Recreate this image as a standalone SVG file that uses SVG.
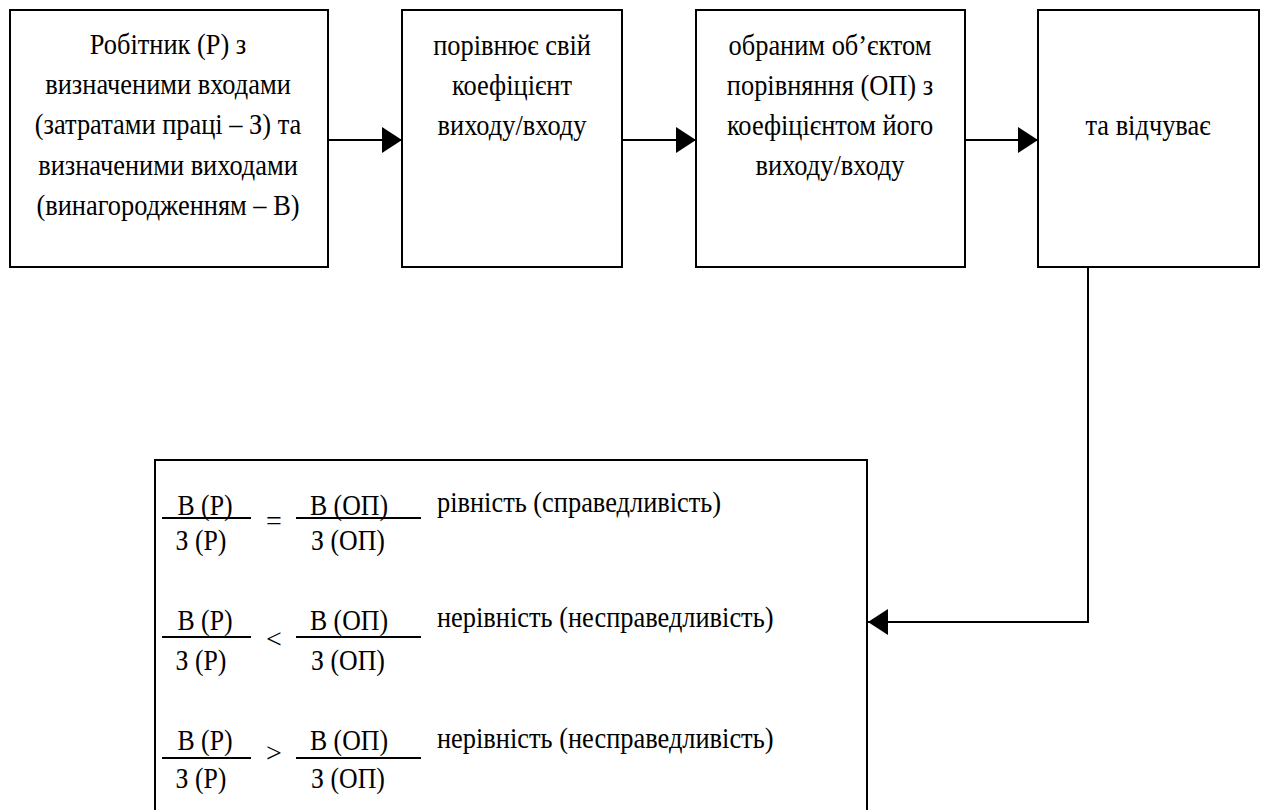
<svg xmlns="http://www.w3.org/2000/svg" width="1264" height="810" viewBox="0 0 1264 810">
<style>
.box{fill:#fff;stroke:#000;stroke-width:2}
.t{font-family:"Liberation Serif","DejaVu Serif","Times New Roman",serif;font-size:30px;fill:#000}
.c{text-anchor:middle}
.ln{stroke:#000;stroke-width:2;fill:none}
.fl{stroke:#000;stroke-width:2}
.op{font-family:"Liberation Serif","DejaVu Serif","Times New Roman",serif;font-size:28px;fill:#000;text-anchor:middle}
</style>
<defs>
<marker id="ah" viewBox="0 0 20 26" refX="20" refY="13" markerWidth="20" markerHeight="26" markerUnits="userSpaceOnUse" orient="auto">
<path d="M0,0 L20,13 L0,26 Z" fill="#000"/>
</marker>
</defs>
<rect width="1264" height="810" fill="#fff"/>
<g id="connectors">
<line class="ln" x1="328" y1="140" x2="402" y2="140" marker-end="url(#ah)"/>
<line class="ln" x1="622" y1="140" x2="696" y2="140" marker-end="url(#ah)"/>
<line class="ln" x1="965" y1="140" x2="1038" y2="140" marker-end="url(#ah)"/>
<polyline class="ln" points="1088,267 1088,622 868,622" marker-end="url(#ah)"/>
</g>
<g id="node1">
<rect class="box" x="10" y="10" width="318" height="257"/>
<g transform="translate(168,0) scale(0.88,1)">
<text class="t c" x="0" y="54">Робітник (Р) з</text>
<text class="t c" x="0" y="94">визначеними входами</text>
<text class="t c" x="0" y="134">(затратами праці – З) та</text>
<text class="t c" x="0" y="175">визначеними виходами</text>
<text class="t c" x="0" y="215">(винагородженням – В)</text>
</g>
</g>
<g id="node2">
<rect class="box" x="402" y="10" width="220" height="257"/>
<g transform="translate(512,0) scale(0.88,1)">
<text class="t c" x="0" y="55">порівнює свій</text>
<text class="t c" x="0" y="95">коефіцієнт</text>
<text class="t c" x="0" y="135">виходу/входу</text>
</g>
</g>
<g id="node3">
<rect class="box" x="696" y="10" width="269" height="257"/>
<g transform="translate(830,0) scale(0.88,1)">
<text class="t c" x="0" y="55">обраним об’єктом</text>
<text class="t c" x="0" y="95">порівняння (ОП) з</text>
<text class="t c" x="0" y="135">коефіцієнтом його</text>
<text class="t c" x="0" y="175">виходу/входу</text>
</g>
</g>
<g id="node4">
<rect class="box" x="1038" y="10" width="221" height="257"/>
<g transform="translate(1148,0) scale(0.88,1)">
<text class="t c" x="0" y="135">та відчуває</text>
</g>
</g>
<g id="node5">
<rect class="box" x="155" y="460" width="712" height="360"/>
<line class="fl" x1="162" y1="518" x2="251" y2="518"/>
<line class="fl" x1="296" y1="518" x2="421" y2="518"/>
<text class="t c" transform="translate(205,515) scale(0.86,1)">В (Р)</text>
<text class="t c" transform="translate(201,550) scale(0.86,1)">З (Р)</text>
<text class="op" x="274" y="530">=</text>
<text class="t c" transform="translate(349,515) scale(0.86,1)">В (ОП)</text>
<text class="t c" transform="translate(348,550) scale(0.86,1)">З (ОП)</text>
<text class="t" transform="translate(437,512) scale(0.88,1)">рівність (справедливість)</text>
<line class="fl" x1="162" y1="637" x2="251" y2="637"/>
<line class="fl" x1="296" y1="637" x2="421" y2="637"/>
<text class="t c" transform="translate(205,630) scale(0.86,1)">В (Р)</text>
<text class="t c" transform="translate(201,670) scale(0.86,1)">З (Р)</text>
<text class="op" x="274" y="648">&lt;</text>
<text class="t c" transform="translate(349,630) scale(0.86,1)">В (ОП)</text>
<text class="t c" transform="translate(348,670) scale(0.86,1)">З (ОП)</text>
<text class="t" transform="translate(437,627) scale(0.88,1)">нерівність (несправедливість)</text>
<line class="fl" x1="162" y1="758" x2="251" y2="758"/>
<line class="fl" x1="296" y1="758" x2="421" y2="758"/>
<text class="t c" transform="translate(205,750) scale(0.86,1)">В (Р)</text>
<text class="t c" transform="translate(201,788) scale(0.86,1)">З (Р)</text>
<text class="op" x="274" y="762">&gt;</text>
<text class="t c" transform="translate(349,750) scale(0.86,1)">В (ОП)</text>
<text class="t c" transform="translate(348,788) scale(0.86,1)">З (ОП)</text>
<text class="t" transform="translate(437,748) scale(0.88,1)">нерівність (несправедливість)</text>
</g>
</svg>
